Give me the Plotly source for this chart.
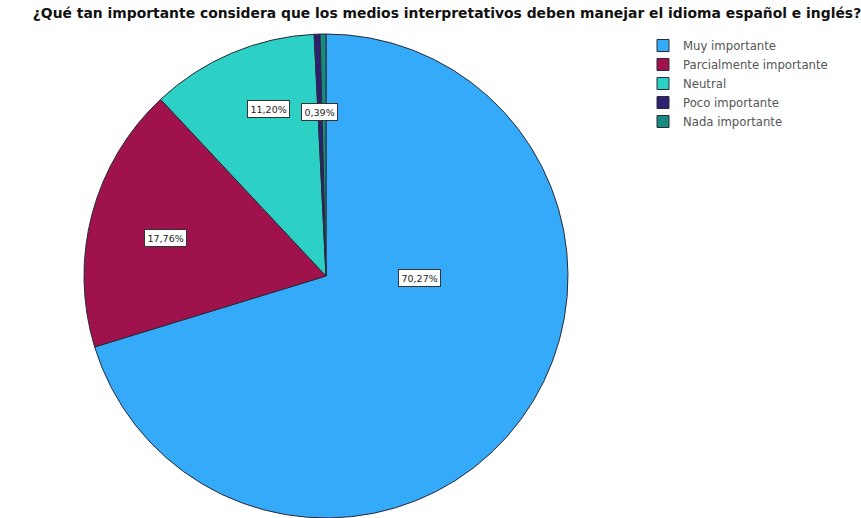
import math
import plotly.graph_objects as go

categories = ["Muy importante", "Parcialmente importante", "Neutral", "Poco importante", "Nada importante"]
values = [70.27, 17.76, 11.20, 0.39, 0.39]
label_texts = ["70,27%", "17,76%", "11,20%", "0,39%", ""]
colors = ["#35AAF8", "#A0124B", "#2CD0C4", "#2E2070", "#178A82"]

W, H = 861, 518
TOP, BOT = 34, 0
R = (H - TOP - BOT) / 2
CX, CY = 326, TOP + R  # pixel centre

fig = go.Figure(go.Pie(
    labels=categories,
    values=values,
    sort=False,
    direction="clockwise",
    rotation=0,
    marker=dict(colors=colors, line=dict(color="#2a2a3a", width=1)),
    textinfo="none",
    hoverinfo="label+percent",
    domain=dict(x=[(CX - R) / W, (CX + R) / W], y=[0, 1]),
))

# label placement derived from the slices' angles
total = sum(values)
cum = 0.0
annotations = []
for i, (v, t) in enumerate(zip(values, label_texts)):
    mid = (cum + v / 2) / total * 2 * math.pi
    cum += v
    if not t:
        continue
    if i == 0:
        ang, rf = mid - 0.62, 0.385
    elif i == 1:
        ang, rf = mid - 0.03, 0.68
    elif i == 2:
        ang, rf = mid + 0.07, 0.73
    else:
        ang, rf = mid, 0.68
    px = CX + rf * R * math.sin(ang)
    py = CY - rf * R * math.cos(ang)
    annotations.append(dict(
        x=px / W, y=1 - (py - TOP) / (H - TOP - BOT), xref="paper", yref="paper",
        xanchor="center", yanchor="middle",
        text=t, showarrow=False, font=dict(family="DejaVu Sans", size=9.5, color="#222"),
        bgcolor="white", bordercolor="#333", borderwidth=1, borderpad=2.5,
    ))

fig.update_layout(
    width=W, height=H,
    margin=dict(l=0, r=0, t=TOP, b=BOT),
    paper_bgcolor="white",
    title=dict(text="<b>¿Qué tan importante considera que los medios interpretativos deben manejar el idioma español e inglés?</b>",
               x=447 / W, xanchor="center", y=1 - 13 / H, yanchor="middle",
               font=dict(family="DejaVu Sans", size=13.9, color="#111")),
    legend=dict(x=643 / W, y=1 + 3 / (H - TOP), xanchor="left", yanchor="top",
                font=dict(family="DejaVu Sans", size=11.7, color="#555"),
                tracegroupgap=0, itemwidth=30, bgcolor="rgba(0,0,0,0)"),
    annotations=annotations,
)

fig.write_html("out.html", config={"displayModeBar": False},
               post_script="document.body.style.margin='0px';")
